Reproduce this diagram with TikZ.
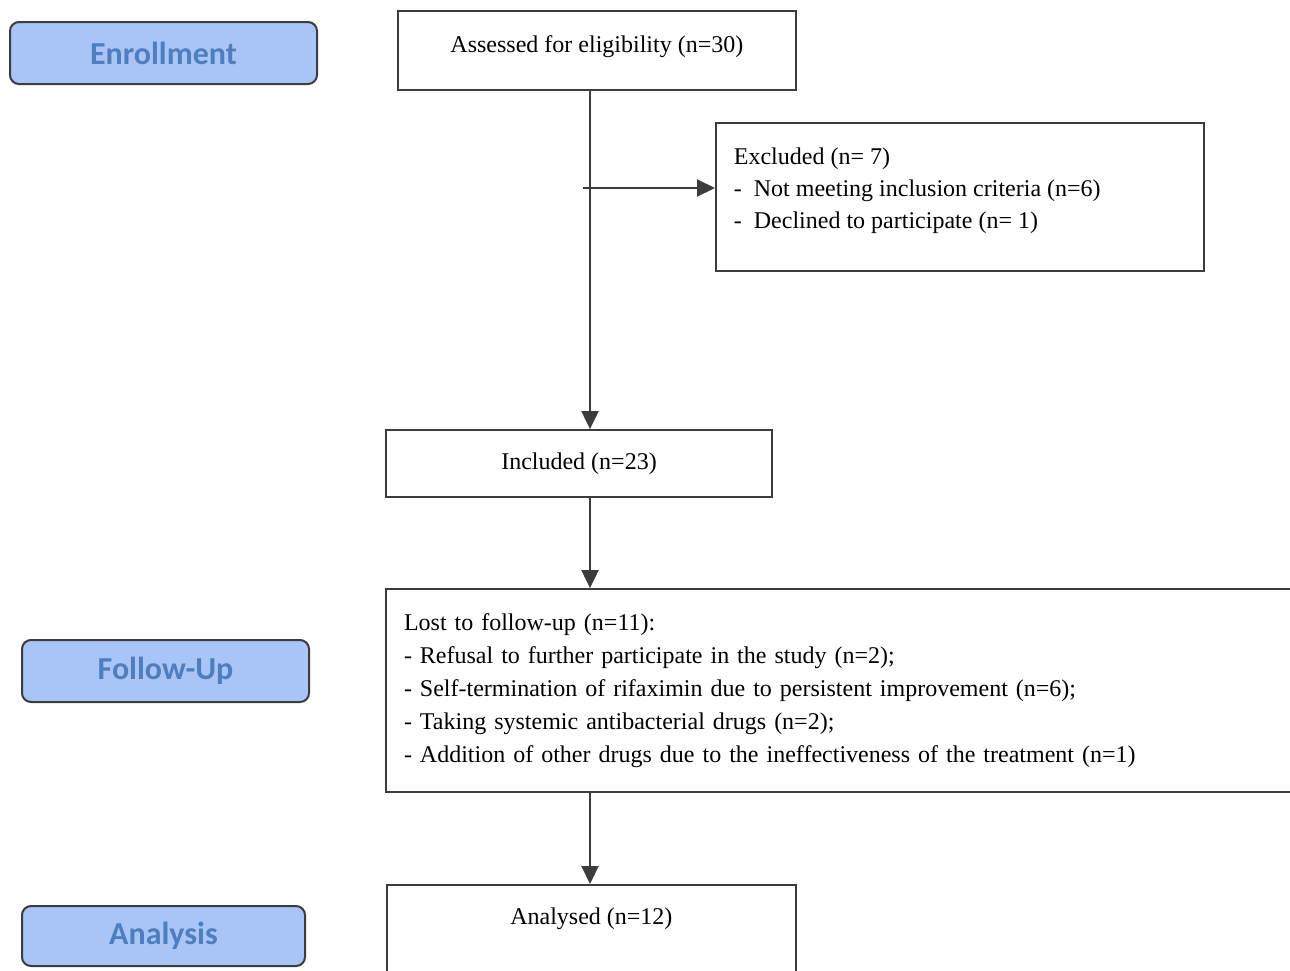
\documentclass[tikz,border=0pt]{standalone}
\usepackage{fontspec}
\setmainfont{Liberation Serif}
\newfontfamily\stagefont{Carlito}
\usetikzlibrary{shapes,arrows.meta,positioning}

\definecolor{stagefill}{HTML}{A9C5F7}
\definecolor{stagetext}{HTML}{4F7EBE}
\definecolor{linegray}{HTML}{3C3C3C}

\begin{document}
\begin{tikzpicture}[
        x=1pt, y=-1pt,
        stage/.style={draw=linegray, line width=2pt, fill=stagefill, rounded corners=9pt,
            font={\stagefont\bfseries\fontsize{32}{36}\selectfont}, text=stagetext, minimum height=62pt},
        box/.style={draw=linegray, line width=1.8pt, fill=white, font={\fontsize{24}{33}\selectfont}},
        flow/.style={draw=linegray, line width=2pt, -{Triangle[length=18pt,width=17pt]}},
        ]
        \useasboundingbox (0,0) rectangle (1290,970);

        \node [stage, minimum width=307pt] (enroll) at (163.5,53) {Enrollment};
        \node [stage, minimum width=287pt] (follow) at (165.5,671) {Follow-Up};
        \node [stage, minimum width=283pt, minimum height=60pt] (analysis) at (163.5,936) {Analysis};

        \node [box, inner xsep=0pt, inner ysep=0pt, anchor=north west] (assess) at (397,10)
            {\parbox[c][79pt][t]{398pt}{\centering\vspace*{25pt}Assessed for eligibility (n=30)}};
        \node [box, inner xsep=18pt, inner ysep=0pt, anchor=north west] (excl) at (715,122)
            {\parbox[c][148pt][t]{452pt}{\fontsize{24}{32}\selectfont\raggedright\vspace*{25pt}%
            Excluded (n= 7)\\
            -\ \ Not meeting inclusion criteria (n=6)\\
            -\ \ Declined to participate (n= 1)}};
        \node [box, minimum width=386pt, minimum height=67pt] (incl) at (579,463.5) {Included (n=23)};
        \node [box, minimum width=914pt, minimum height=203pt, text width=878pt, align=left,
            inner xsep=18pt] (lost) at (843,690.5)
            {Lost to follow-up (n=11):\\
            - Refusal to further participate in the study (n=2);\\
            - Self-termination of rifaximin due to persistent improvement (n=6);\\
            - Taking systemic antibacterial drugs (n=2);\\
            - Addition of other drugs due to the ineffectiveness of the treatment (n=1)};
        \node [box, inner xsep=0pt, inner ysep=0pt, anchor=north west] (analysed) at (386,884)
            {\parbox[c][110pt][t]{409pt}{\centering\vspace*{23pt}Analysed (n=12)}};

        \coordinate (trunk) at (590,0);
        \coordinate (branch) at (583,188);
        \draw [flow] (assess.south -| trunk) -- (incl.north -| trunk);
        \draw [flow] (branch) -- (branch -| excl.west);
        \draw [flow] (incl.south -| trunk) -- (lost.north -| trunk);
        \draw [flow] (lost.south -| trunk) -- (analysed.north -| trunk);
    \end{tikzpicture}
\end{document}
